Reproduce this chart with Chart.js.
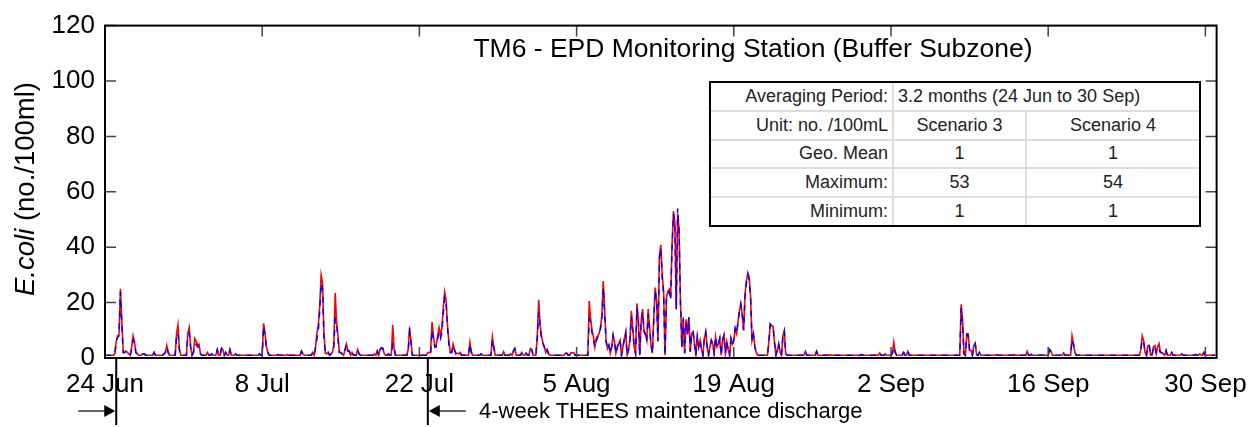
<!DOCTYPE html>
<html>
<head>
<meta charset="utf-8">
<script src="https://cdn.jsdelivr.net/npm/chart.js@4.4.0/dist/chart.umd.min.js"></script>
<style>
  body { margin: 0; background: #fff; }
  #wrap { position: relative; width: 1258px; height: 427px; font-family: "Liberation Sans", Arial, sans-serif; color: #000; }
  #chart { position: absolute; left: 0; top: 0; }
  .title { position: absolute; left: 453px; top: 33px; width: 600px; text-align: center; font-size: 26.5px; line-height: 30px; }
  .ytitle { position: absolute; left: 25px; top: 189px; transform: translate(-50%, -50%) rotate(-90deg); white-space: nowrap; font-size: 27.5px; line-height: 30px; }
  .note { position: absolute; left: 479px; top: 398px; font-size: 22px; line-height: 26px; white-space: nowrap; }
  .stats { position: absolute; left: 709px; top: 81px; width: 488px; height: 142px; border: 2px solid #000; background: #fff; }
  .stats table { border-collapse: collapse; table-layout: fixed; width: 488px; height: 142px; font-size: 18px; color: #222; }
  .stats td { border: 2px solid #ddd; padding: 0 4px; white-space: nowrap; text-align: center; }
  .stats tr:first-child td { border-top: none; }
  .stats tr:last-child td { border-bottom: none; }
  .stats td:first-child { border-left: none; text-align: right; }
  .stats td:last-child { border-right: none; }
  .stats td.period { text-align: left; }
</style>
</head>
<body>
<div id="wrap">
  <canvas id="chart" width="1258" height="427"></canvas>
  <div class="title">TM6 - EPD Monitoring Station (Buffer Subzone)</div>
  <div class="ytitle"><i>E.coli</i> (no./100ml)</div>
  <div class="stats"><table id="stats"></table></div>
  <div class="note">4-week THEES maintenance discharge</div>
</div>
<script>
// x axis: days after 24 Jun, model output every 3 hours
const stepsPerDay = 8;
const tickDays = [0, 14, 28, 42, 56, 70, 84, 98];
const tickLabels = ["24 Jun", "8 Jul", "22 Jul", "5 Aug", "19 Aug", "2 Sep", "16 Sep", "30 Sep"];
const yTicks = [0, 20, 40, 60, 80, 100, 120];
// start and end of the THEES maintenance discharge (days after 24 Jun)
const dischargeDays = [1, 28.75];

// summary table
const periodText = "3.2 months (24 Jun to 30 Sep)";
const scenarioNames = ["Scenario 3", "Scenario 4"];
const statLabels = ["Geo. Mean", "Maximum:", "Minimum:"];
const statsScenario3 = [1, 53, 1];
const statsScenario4 = [1, 54, 1];

// E.coli (no./100ml), one row per day
const scenario3 = [
  1,1,1,1,1,1,1,1.5,
  6,8,8.5,25,13,2,2,2.5,
  2,1.5,1,4,8,6,2,1.5,
  1,1,1,1.5,1.5,1,1,1,
  1,1,1,2,1,1,1,1,
  1,1,1.5,2,4.5,2,1,1,
  1,1,1,9,12,3,1,1,
  1,1,1,9,11,4,1,2,
  7,6,4.5,5,1.5,1,1,1,
  1,2,1,1,1.5,1,1,1,
  3,1,1,3.5,3,1,2,1,
  1,3,1,1,1,1.5,1,1,
  1,1,1,1,1,1,1,1,
  1,1,1,1,1,1,1.5,1,
  1,12.5,9,4,2,1,1,1,
  1,1,1,1.2,1,1,1,1,
  1,1,1.2,1,1,1,1,1,
  1,1,1,1,2.5,1.5,1,1,
  1,1,1,1,2,1,4,9,
  12,19,30,27,9,1.7,1.5,2,
  1,1.5,2,4.6,23.5,13,8,2,
  2,1.5,1,3,5,2.5,2.5,1,
  2,1,1,1,3,1.5,1,1,
  1,1,1,1,1,1,1,1,
  1.5,1,2.5,1,3,3.7,3.5,1.5,
  1,1,1.5,1,1,12,3,1,
  1,1,1,1,1,1,1,1,
  3,11,6,1,1,1,1,1,
  1,1,1,1,1,1,2,2,
  2,13,8,4,4.6,8,11,8,
  10.8,18,23.8,21,12,6,2,2,
  5,3,1.5,1.7,1.5,2,1,1,
  1,1,1,1,5.6,2,1,1,
  1,1,1,1,1.5,1,1,1,
  1,1,1,1,7.6,4,1,1,
  1,1,1,1,2.3,1,1,1,
  1,1.5,1,2.5,3.4,1,1,1,
  1,2,1,1,1.7,1,1,3.4,
  3,1,1,1,8,21,12,8,
  5.4,4,2,3,1.5,1,1,1,
  1,1,1,1,1,1,1,1,
  1.7,1.7,1,1,1.9,1.9,1.9,1,
  1,1,1,1,1,1,1,1,
  1,20.6,14,10,7.6,4,7,8,
  8.8,11,15.3,27.8,17,6.4,3.4,4.6,
  1.7,4,8.2,5.8,1.7,4,5.2,6.4,
  1,4,7,9.4,1,3,6.4,17,
  11,4,1.7,19.7,14,1,13.5,17.7,
  10,8.8,6.4,17.7,11,5,1.7,14.7,
  25.4,20.6,6.4,37.2,40.8,30,24,1,
  21.8,24,24.8,21.8,40.8,53,49,18,
  52,46.7,20.6,4,14.7,1.7,14,8.8,
  14.7,2.3,8.8,9.4,5,1,7.6,4,
  6.4,3,1,7,9.4,4,1,4,
  6.4,5.2,1.7,7.6,4,5,7,1,
  6.4,8.2,1.7,5.8,3,1,7,5,
  6.4,10.6,8.8,13,17,19.5,15.9,10,
  23,28,30.7,29,21.8,6.4,8.8,4,
  2,1,1,1,1,1,1,1,
  1,6,12.2,11.6,11.4,5.7,1,3,
  5,2,1,8,9.8,1.5,1,1,
  1,1,1,1,1,1,1,1,
  1,1,1,2.4,1,1,1,1,
  1,1,1,2.4,1,1,1,1,
  1,1,1,1,1,1.2,1,1,
  1,1,1,1,1,1,1,1,
  1,1,1,1,1,1,1,1,
  1,1,1,1.2,1,1,1,1,
  1,1,1,1,1,1,1,1,
  1.8,1,1,1,1.5,1,1,1,
  1,1.5,5.7,2,1,1,1,1,
  1,2,1,1,2.4,1,1,1,
  1,1,1,1,1,1,1,1,
  1,1,1,1,1,1,1,1,
  1,1,1,1,1,1,1,1,
  1,1,1,1,1,1,1,1,
  1,1,19.4,14,1.5,1,8.7,8.7,
  2.7,2.7,1,4.5,5.3,1.2,1,2,
  1,1,1,1,1,1,1,1,
  1,1,1,1.2,1,1,1,1,
  1,1,1,1,1,1,1,1,
  1.2,1,1,1,1,1,1,1,
  1,2.4,1,1,1.3,1,1,1,
  1,1,1,1,1,1,1,1,
  1,3,2.4,1,1,1,1,1,
  1,1,1,1.8,1,1,1,1,
  1,8,5,2,1,1,1,1,
  1,1,1,1,1,1,1,1,
  1,1,1,1,1,1,1,1,
  1,1,1,1,1,1,1,1,
  1,1,1,1,1,1,1,1,
  1,1,1,1,1,1,1,1,
  1,1,3,8,6.3,2,1,4.5,
  4.5,1,1,4,4.5,1.5,4,5.2,
  2,2,1.5,1,2.7,1,1,1,
  2,1,1,1,1,1,1,1.5,
  1,1,1,1,1,1,1,1,
  1,1.2,1,1,1.5,1,1,2,
  1,1,1,1,1,1,1,1
];

const scenario4 = [
  1,1,1,1,1,1,1,1.5,
  6,7.5,8,24,12,2,2,2.5,
  2,1.5,1,3,6.5,5,2,1.5,
  1,1,1,1.5,1.5,1,1,1,
  1,1,1,2,1,1,1,1,
  1,1,1.5,2,4,2,1,1,
  1,1,1,8,9,3,1,1,
  1,1,1,8,9,4,1,2,
  5,5,4,4,1.5,1,1,1,
  1,2,1,1,1.5,1,1,1,
  3,1,1,3.5,3,1,2,1,
  1,3,1,1,1,1.5,1,1,
  1,1,1,1,1,1,1,1,
  1,1,1,1,1,1,1.5,1,
  1,11.5,8,4,2,1,1,1,
  1,1,1,1.2,1,1,1,1,
  1,1,1.2,1,1,1,1,1,
  1,1,1,1,2.5,1.5,1,1,
  1,1,1,1,2,1,3.5,7,
  10,17,27,25,7,1.7,1.5,2,
  1,1.5,2,4,14,12,7,2,
  2,1.5,1,3,5,2.5,2.5,1,
  2,1,1,1,3,1.5,1,1,
  1,1,1,1,1,1,1,1,
  1.5,1,2.5,1,3,3.7,3.5,1.5,
  1,1,1.5,1,1,5,4,1,
  1,1,1,1,1,1,1,1,
  2,9.5,6,1,1,1,1,1,
  1,1,1,1,1,1,2,2,
  2,10,7,4,4,7,9,7,
  9,16,21.8,20,11,5,2,2,
  4.5,3,1.5,1.7,1.5,2,1,1,
  1,1,1,1,5,2,1,1,
  1,1,1,1,1.5,1,1,1,
  1,1,1,1,6.5,4,1,1,
  1,1,1,1,2.3,1,1,1,
  1,1.5,1,2.5,3.4,1,1,1,
  1,2,1,1,1.7,1,1,3.4,
  3,1,1,1,7,16.5,11,7,
  5.4,4,2,3,1.5,1,1,1,
  1,1,1,1,1,1,1,1,
  1.7,1.7,1,1,1.9,1.9,1.9,1,
  1,1,1,1,1,1,1,1,
  1,14,13,9,7,4,6,7.5,
  8.5,10.5,14,25.5,16,6,3.4,4.6,
  1.7,4,8.2,5.8,1.7,4,5.2,6.4,
  1,4,6.5,9,1,3,6,15,
  10,4,1.7,18,13,1,13,16.5,
  9.5,8.5,6,16,10.5,5,1.7,14,
  24.5,20,6,35.5,39.5,29,23,1,
  21,23.5,24,21,39.5,52,48.5,17.5,
  54,46,20,4,14,1.7,13.5,8.5,
  14.7,2.3,8.8,9.4,5,1,7.6,4,
  6.4,3,1,7,9.4,4,1,4,
  6.4,5.2,1.7,7.6,4,5,7,1,
  6.4,8.2,1.7,5.8,3,1,7,5,
  6.4,10.6,8.8,13,17,19.5,15.9,10,
  22,27,30,28,21,6,8.5,4,
  2,1,1,1,1,1,1,1,
  1,6,12.2,11.6,11.4,5.7,1,3,
  5,2,1,8,9.8,1.5,1,1,
  1,1,1,1,1,1,1,1,
  1,1,1,2.4,1,1,1,1,
  1,1,1,2.4,1,1,1,1,
  1,1,1,1,1,1.2,1,1,
  1,1,1,1,1,1,1,1,
  1,1,1,1,1,1,1,1,
  1,1,1,1.2,1,1,1,1,
  1,1,1,1,1,1,1,1,
  1.8,1,1,1,1.5,1,1,1,
  1,2,4,2,1,1,1,1,
  1,2,1,1,2.4,1,1,1,
  1,1,1,1,1,1,1,1,
  1,1,1,1,1,1,1,1,
  1,1,1,1,1,1,1,1,
  1,1,1,1,1,1,1,1,
  1,1,18,12,1.5,1,8.5,8,
  2.7,2.7,1,4.5,5.3,1.2,1,2,
  1,1,1,1,1,1,1,1,
  1,1,1,1.2,1,1,1,1,
  1,1,1,1,1,1,1,1,
  1.2,1,1,1,1,1,1,1,
  1,2.4,1,1,1.3,1,1,1,
  1,1,1,1,1,1,1,1,
  1,3,2.4,1.5,1,1,1,1,
  1,1,1,2,1,1,1,1,
  1,6.5,5,2,1,1,1,1,
  1,1,1,1,1,1,1,1,
  1,1,1,1,1,1,1,1,
  1,1,1,1,1,1,1,1,
  1,1,1,1,1,1,1,1,
  1,1,1,1,1,1,1,1,
  1,1,3,6.5,6,2,1,4.5,
  4.5,1,1,4,4.5,1.5,3,3,
  2,2,1.5,1,2.7,1,1,1,
  2,1,1,1,1,1,1,1.5,
  1,1,1,1,1,1,1,1,
  1,1.2,1,1,1.5,1,1,2,
  1,1,1,1,1,1,1,1
];

// fill the statistics box
const table = document.getElementById("stats");
let html = `<colgroup><col style="width:182px"><col style="width:133px"><col style="width:173px"></colgroup>`;
html += `<tr><td>Averaging Period:</td><td class="period" colspan="2">${periodText}</td></tr>`;
html += `<tr><td>Unit: no. /100mL</td><td>${scenarioNames[0]}</td><td>${scenarioNames[1]}</td></tr>`;
statLabels.forEach((label, i) => {
  html += `<tr><td>${label}</td><td>${statsScenario3[i]}</td><td>${statsScenario4[i]}</td></tr>`;
});
table.innerHTML = html;

const toPoints = (values) => values.map((v, i) => ({ x: i / stepsPerDay, y: v }));
const font = { family: "'Liberation Sans', Arial, sans-serif", size: 26 };

// box, inward ticks and discharge markers
const frame = {
  id: "frame",
  afterDatasetsDraw(chart) {
    const { ctx, chartArea: a, scales: { x, y } } = chart;
    ctx.save();
    ctx.strokeStyle = "#444";
    ctx.lineWidth = 1.5;
    ctx.beginPath();
    tickDays.forEach((d) => {
      const px = x.getPixelForValue(d);
      ctx.moveTo(px, a.bottom);
      ctx.lineTo(px, a.bottom - 11);
      ctx.moveTo(px, a.top);
      ctx.lineTo(px, a.top + 11);
    });
    yTicks.forEach((v) => {
      const py = y.getPixelForValue(v);
      ctx.moveTo(a.left, py);
      ctx.lineTo(a.left + 11, py);
      ctx.moveTo(a.right, py);
      ctx.lineTo(a.right - 11, py);
    });
    ctx.stroke();

    ctx.strokeStyle = "#000";
    ctx.lineWidth = 2;
    ctx.strokeRect(a.left, a.top, a.right - a.left, a.bottom - a.top);

    // discharge start / end lines with arrows
    const arrowY = a.bottom + 53;
    ctx.fillStyle = "#000";
    dischargeDays.forEach((d, k) => {
      const px = x.getPixelForValue(d);
      ctx.beginPath();
      ctx.moveTo(px, a.bottom);
      ctx.lineTo(px, a.bottom + 67);
      ctx.stroke();
      const dir = k === 0 ? 1 : -1;
      const tail = px - dir * 38;
      ctx.lineWidth = 1.2;
      ctx.beginPath();
      ctx.moveTo(tail, arrowY);
      ctx.lineTo(px - dir * 10, arrowY);
      ctx.stroke();
      ctx.beginPath();
      ctx.moveTo(px - dir * 1, arrowY);
      ctx.lineTo(px - dir * 12, arrowY - 6);
      ctx.lineTo(px - dir * 12, arrowY + 6);
      ctx.closePath();
      ctx.fill();
      ctx.lineWidth = 2;
    });
    ctx.restore();
  }
};

new Chart(document.getElementById("chart").getContext("2d"), {
  type: "line",
  data: {
    datasets: [
      {
        label: "Scenario 4",
        data: toPoints(scenario4),
        borderColor: "#0000ff",
        borderWidth: 1.5,
        borderDash: [6, 6],
        pointRadius: 0,
        tension: 0,
        order: 0,
      },
      {
        label: "Scenario 3",
        data: toPoints(scenario3),
        borderColor: "#ff0000",
        borderWidth: 1.6,
        pointRadius: 0,
        tension: 0,
        order: 1,
      },
    ],
  },
  options: {
    responsive: false,
    animation: false,
    devicePixelRatio: 1,
    layout: { padding: { top: 21, right: 41, left: 0, bottom: 0 } },
    plugins: { legend: { display: false }, tooltip: { enabled: false } },
    scales: {
      x: {
        type: "linear",
        min: 0,
        max: 99,
        grid: { display: false, drawTicks: false },
        border: { display: false },
        afterBuildTicks: (s) => { s.ticks = tickDays.map((v) => ({ value: v })); },
        afterFit: (s) => { s.height = 69; },
        ticks: {
          autoSkip: false,
          maxRotation: 0,
          padding: 11,
          color: "#000",
          font: font,
          callback: (v) => tickLabels[tickDays.indexOf(v)],
        },
      },
      y: {
        min: 0,
        max: 120,
        grid: { display: false, drawTicks: false },
        border: { display: false },
        afterBuildTicks: (s) => { s.ticks = yTicks.map((v) => ({ value: v })); },
        afterFit: (s) => { s.width = 105; },
        ticks: { padding: 10, color: "#000", font: font },
      },
    },
  },
  plugins: [frame],
});
</script>
</body>
</html>
